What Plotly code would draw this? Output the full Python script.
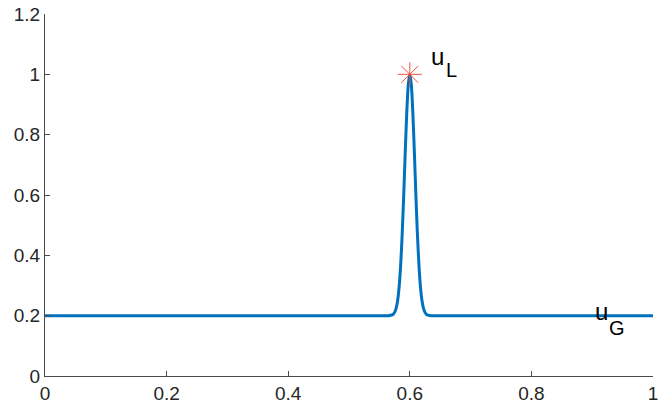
import plotly.graph_objects as go

# curve points
x_vals = [0.0, 0.5, 0.565, 0.57, 0.5725, 0.575, 0.5775, 0.58, 0.5825, 0.585, 0.5875, 0.59,
          0.5925, 0.595, 0.5975, 0.6, 0.6025, 0.605, 0.6075, 0.61, 0.6125, 0.615, 0.6175,
          0.62, 0.6225, 0.625, 0.6275, 0.63, 0.635, 0.7, 1.0]
y_vals = [0.2, 0.2, 0.2, 0.202, 0.204, 0.211, 0.224, 0.25, 0.296, 0.369, 0.471, 0.6,
          0.742, 0.873, 0.966, 1.0, 0.966, 0.873, 0.742, 0.6, 0.471, 0.369, 0.296,
          0.25, 0.224, 0.211, 0.204, 0.202, 0.2, 0.2, 0.2]

peak_x = [0.6]
peak_y = [1.0]

x_ticks = [0, 0.2, 0.4, 0.6, 0.8, 1]
x_tick_text = ["0", "0.2", "0.4", "0.6", "0.8", "1"]
y_ticks = [0, 0.2, 0.4, 0.6, 0.8, 1, 1.2]
y_tick_text = ["0", "0.2", "0.4", "0.6", "0.8", "1", "1.2"]

# label "u" with subscript, drawn as base letter + subscript letter
label_main = ["u", "u"]
label_sub = ["L", "G"]
main_x = [0.633, 0.903]
main_y = [1.058, 0.214]
sub_x = [0.658, 0.926]
sub_y = [1.013, 0.158]

FONT = "Liberation Sans, Arial, Helvetica, sans-serif"

fig = go.Figure()
fig.add_trace(go.Scatter(x=x_vals, y=y_vals, mode="lines",
                         line=dict(color="#0072BD", width=3, shape="spline", smoothing=0.6),
                         showlegend=False, hoverinfo="skip"))
fig.add_trace(go.Scatter(x=peak_x, y=peak_y, mode="markers",
                         marker=dict(symbol="asterisk-open", size=20,
                                     line=dict(color="#FF2020", width=1)),
                         showlegend=False))

for t, lx, ly in zip(label_main, main_x, main_y):
    fig.add_annotation(x=lx, y=ly, text=t, showarrow=False, xanchor="left", yanchor="middle",
                       borderpad=0, font=dict(family=FONT, size=24, color="#000000"))
for t, lx, ly in zip(label_sub, sub_x, sub_y):
    fig.add_annotation(x=lx, y=ly, text=t, showarrow=False, xanchor="left", yanchor="middle",
                       borderpad=0, font=dict(family=FONT, size=20, color="#000000"))

axis_common = dict(showgrid=False, zeroline=False, showline=True, linecolor="#4a4a4a", linewidth=1,
                   ticks="inside", ticklen=5, tickcolor="#4a4a4a",
                   tickfont=dict(family=FONT, size=19, color="#262626"))

fig.update_xaxes(range=[0, 1], tickvals=x_ticks, ticktext=x_tick_text, **axis_common)
fig.update_yaxes(range=[0, 1.2], tickvals=y_ticks, ticktext=y_tick_text, **axis_common)

fig.update_layout(width=660, height=408, margin=dict(l=45, r=7, t=14, b=32, autoexpand=False),
                  plot_bgcolor="white", paper_bgcolor="white")

fig.write_html("out.html", config={"displayModeBar": False},
               post_script="document.body.style.margin='0';document.body.style.overflow='hidden';")
